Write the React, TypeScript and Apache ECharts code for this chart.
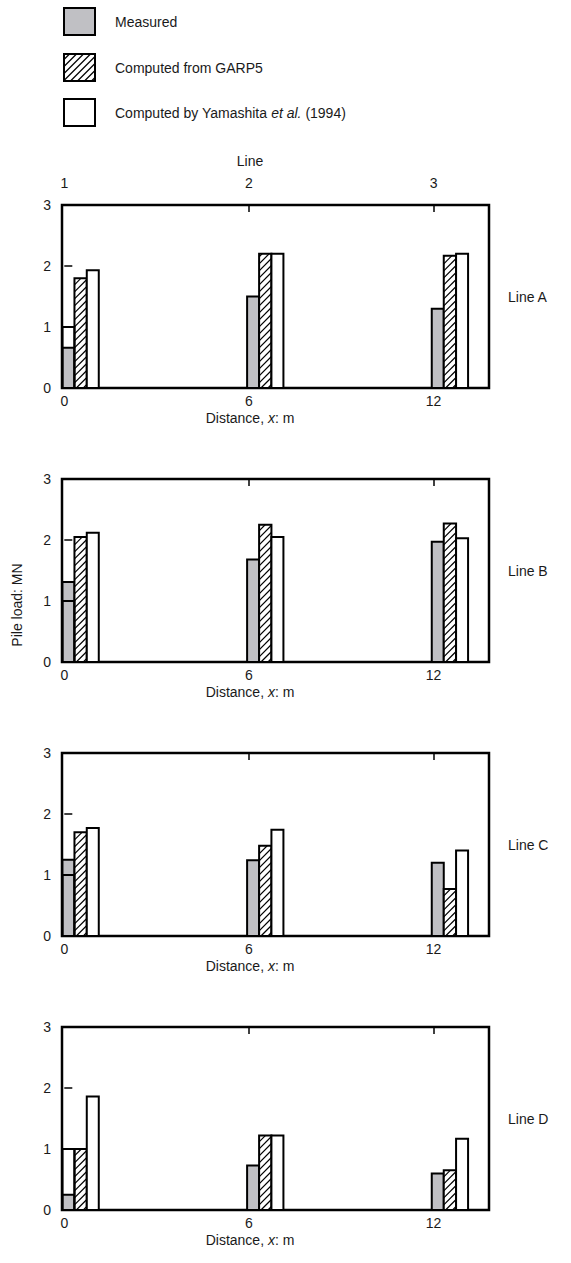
import React, { useEffect, useRef } from "react";
import * as echarts from "echarts";

// ---- data ----
const distances = [0, 6, 12];
const xTickLabels = ["0", "6", "12"];
const lineNumbers = ["1", "2", "3"];
const yTickValues = [0, 1, 2, 3];
const panelNames = ["Line A", "Line B", "Line C", "Line D"];
const measured = [
  [0.66, 1.5, 1.3],
  [1.31, 1.68, 1.97],
  [1.25, 1.24, 1.2],
  [0.25, 0.73, 0.6],
];
const garp5 = [
  [1.8, 2.2, 2.17],
  [2.05, 2.25, 2.27],
  [1.7, 1.48, 0.77],
  [1.0, 1.22, 0.65],
];
const yamashita = [
  [1.93, 2.2, 2.2],
  [2.12, 2.05, 2.03],
  [1.77, 1.74, 1.4],
  [1.86, 1.22, 1.17],
];
// outline box drawn in the "measured" slot at x = 0 in every panel
const measuredOutline = [1.0, 1.0, 1.0, 1.0];
const legendLabels = ["Measured", "Computed from GARP5", "Computed by Yamashita {i|et al.} (1994)"];

// ---- layout / style ----
const W = 571;
const H = 1263;
const FONT = "Liberation Sans, Arial, sans-serif";
const GRID_LEFT = 62;
const GRID_WIDTH = 427;
const GRID_HEIGHT = 183;
const GRID_TOPS = [205, 479, 753, 1027];
const GRAY = "#c0c0c4";
const TEXT = "#1a1a1a";
const FS_AXIS = 14;
const FS_TEXT = 14;

const SLOTS = [
  [-0.06, 0.33],
  [0.33, 0.73],
  [0.73, 1.12],
  [-0.06, 0.33],
];

function hatchLines(x0: number, y0: number, w: number, h: number, step: number) {
  const out: number[][] = [];
  const yb = y0 + h;
  for (let d = -w + step / 2; d < h; d += step) {
    const u1 = Math.max(0, -d);
    const u2 = Math.min(w, h - d);
    if (u2 - u1 > 0.5) {
      out.push([x0 + u1, yb - (u1 + d), x0 + u2, yb - (u2 + d)]);
    }
  }
  return out;
}

function makeRender(kind: number) {
  return (params: any, api: any) => {
    const x = api.value(0);
    const y = api.value(1);
    const a = api.coord([x + SLOTS[kind][0], y]);
    const b = api.coord([x + SLOTS[kind][1], 0]);
    const rx = a[0];
    const ry = a[1];
    const rw = b[0] - a[0];
    const rh = b[1] - a[1];
    const children: any[] = [];
    let fill: any = "#fff";
    if (kind === 0) fill = GRAY;
    if (kind === 3) fill = "none";
    children.push({
      type: "rect",
      shape: { x: rx, y: ry, width: rw, height: rh },
      style: { fill, stroke: "#000", lineWidth: 2 },
    });
    if (kind === 1) {
      hatchLines(rx, ry, rw, rh, 7).forEach((l) =>
        children.push({
          type: "line",
          shape: { x1: l[0], y1: l[1], x2: l[2], y2: l[3] },
          style: { stroke: "#000", lineWidth: 1.2 },
        })
      );
    }
    return { type: "group", children };
  };
}

function buildOption() {
  const grid: any[] = [];
  const xAxis: any[] = [];
  const yAxis: any[] = [];
  const series: any[] = [];
  const graphic: any[] = [];

  GRID_TOPS.forEach((top, p) => {
    grid.push({
      left: GRID_LEFT,
      top,
      width: GRID_WIDTH,
      height: GRID_HEIGHT,
      show: true,
      borderColor: "#000",
      borderWidth: 2.5,
      backgroundColor: "transparent",
    });
    // bottom axis
    xAxis.push({
      type: "value",
      gridIndex: p,
      min: -0.075,
      max: 13.8,
      position: "bottom",
      axisLine: { show: false },
      splitLine: { show: false },
      axisTick: {
        show: true,
        inside: true,
        length: 7,
        customValues: [6, 12],
        lineStyle: { color: "#000", width: 1.5 },
      },
      axisLabel: {
        show: true,
        customValues: distances,
        formatter: (v: number) => xTickLabels[distances.indexOf(v)] ?? "",
        color: TEXT,
        fontSize: FS_AXIS,
        fontFamily: FONT,
        margin: 6,
      },
    });
    // top axis
    xAxis.push({
      type: "value",
      gridIndex: p,
      min: -0.075,
      max: 13.8,
      position: "top",
      axisLine: { show: false },
      splitLine: { show: false },
      axisTick: {
        show: true,
        inside: true,
        length: 7,
        customValues: [6, 12],
        lineStyle: { color: "#000", width: 1.5 },
      },
      axisLabel: {
        show: p === 0,
        customValues: distances,
        formatter: (v: number) => lineNumbers[distances.indexOf(v)] ?? "",
        color: TEXT,
        fontSize: FS_AXIS,
        fontFamily: FONT,
        margin: 15,
      },
    });
    yAxis.push({
      type: "value",
      gridIndex: p,
      min: 0,
      max: 3,
      interval: 1,
      axisLine: { show: false },
      splitLine: { show: false },
      axisTick: {
        show: true,
        inside: true,
        length: 8,
        customValues: [1, 2],
        lineStyle: { color: "#000", width: 1.5 },
      },
      axisLabel: {
        color: TEXT,
        fontSize: FS_AXIS,
        fontFamily: FONT,
        margin: 11,
        formatter: (v: number) => (yTickValues.indexOf(v) >= 0 ? String(v) : ""),
      },
    });

    const xi = p * 2;
    const sets = [measured[p], garp5[p], yamashita[p]];
    sets.forEach((vals, k) => {
      series.push({
        type: "custom",
        name: ["Measured", "GARP5", "Yamashita"][k],
        xAxisIndex: xi,
        yAxisIndex: p,
        renderItem: makeRender(k),
        data: distances.map((d, i) => [d, vals[i]]),
        z: 2,
        clip: false,
      });
    });
    series.push({
      type: "custom",
      name: "outline",
      xAxisIndex: xi,
      yAxisIndex: p,
      renderItem: makeRender(3),
      data: [[distances[0], measuredOutline[p]]],
      z: 3,
      clip: false,
    });

    // x axis title
    graphic.push({
      type: "text",
      x: 250,
      y: top + GRID_HEIGHT + 30,
      style: {
        text: "Distance, {i|x}: m",
        fill: TEXT,
        font: `${FS_AXIS}px ${FONT}`,
        align: "center",
        verticalAlign: "middle",
        rich: { i: { fontStyle: "italic", fontSize: FS_AXIS, fontFamily: FONT, fill: TEXT } },
      },
    });
    // panel name on the right
    graphic.push({
      type: "text",
      x: 508,
      y: top + GRID_HEIGHT / 2,
      style: {
        text: panelNames[p],
        fill: TEXT,
        font: `${FS_TEXT}px ${FONT}`,
        align: "left",
        verticalAlign: "middle",
      },
    });
  });

  // top axis title "Line"
  graphic.push({
    type: "text",
    x: 250,
    y: 161,
    style: {
      text: "Line",
      fill: TEXT,
      font: `${FS_AXIS}px ${FONT}`,
      align: "center",
      verticalAlign: "middle",
    },
  });

  // y axis title
  graphic.push({
    type: "text",
    x: 17,
    y: 605,
    rotation: Math.PI / 2,
    style: {
      text: "Pile load: MN",
      fill: TEXT,
      font: `${FS_AXIS}px ${FONT}`,
      align: "center",
      verticalAlign: "middle",
    },
  });

  // legend
  const legendY = [8, 54, 99];
  legendY.forEach((ly, k) => {
    const bx = 64;
    const bw = 31;
    const bh = 27;
    graphic.push({
      type: "rect",
      shape: { x: bx, y: ly, width: bw, height: bh },
      style: { fill: k === 0 ? GRAY : "#fff", stroke: "#000", lineWidth: 2 },
      z: 10,
    });
    if (k === 1) {
      hatchLines(bx, ly, bw, bh, 7).forEach((l) =>
        graphic.push({
          type: "line",
          shape: { x1: l[0], y1: l[1], x2: l[2], y2: l[3] },
          style: { stroke: "#000", lineWidth: 1.2 },
          z: 11,
        })
      );
    }
    graphic.push({
      type: "text",
      x: 115,
      y: ly + bh / 2,
      style: {
        text: legendLabels[k],
        fill: TEXT,
        font: `${FS_TEXT}px ${FONT}`,
        align: "left",
        verticalAlign: "middle",
        rich: { i: { fontStyle: "italic", fontSize: FS_TEXT, fontFamily: FONT, fill: TEXT } },
      },
      z: 10,
    });
  });

  return {
    animation: false,
    backgroundColor: "#fff",
    grid,
    xAxis,
    yAxis,
    series,
    graphic,
  };
}

export default function App() {
  const ref = useRef<HTMLDivElement>(null);
  useEffect(() => {
    if (!ref.current) return;
    const chart = echarts.init(ref.current, null, { renderer: "svg" });
    chart.setOption(buildOption() as any);
    return () => chart.dispose();
  }, []);
  return (
    <div
      ref={ref}
      style={{ position: "absolute", left: 0, top: 0, width: W, height: H }}
    />
  );
}
